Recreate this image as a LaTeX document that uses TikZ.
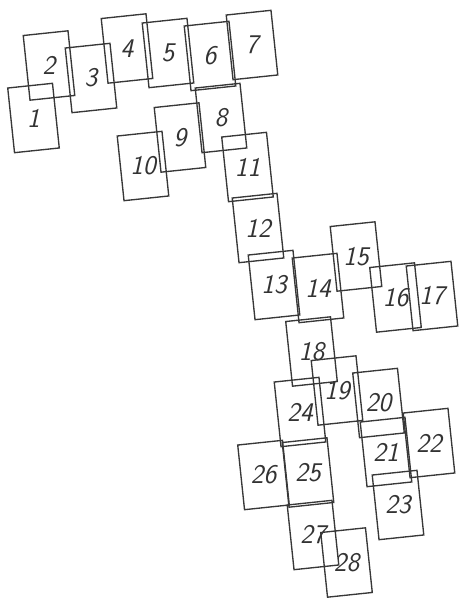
\documentclass[tikz,border=0pt]{standalone}
\begin{document}
\begin{tikzpicture}[x=1pt,y=-1pt,
  sheet/.style={draw=black!78, line width=1.35pt, rectangle, minimum width=45pt, minimum height=65pt, inner sep=0pt, outer sep=0pt, rotate=6},
  num/.style={text=black!80, font=\fontsize{27}{27}\selectfont\sffamily\itshape, inner sep=0pt}]
\useasboundingbox (0,0) rectangle (462,599);
\foreach \n/\x/\y in {1/33.5/118, 2/49/65.5, 3/91/78, 4/127/48.5, 5/168/53, 6/210/56, 7/252/45,
  8/221/118, 9/180/137.5, 10/143/166, 11/247.5/167, 12/258/228, 13/274/285, 14/318/288,
  15/356/256.5, 16/395.5/297.5, 17/432/296, 18/311.5/351.5, 19/337/390.5, 20/378.5/403,
  21/386/452, 22/429/443, 23/398/505, 24/300/412, 25/308/472.5, 26/263.5/475, 27/313/535,
  28/346.5/562.5}{
  \node[sheet] (r\n) at (\x,\y) {};
  \node[num] (t\n) at (r\n.center) {\n};
}
\end{tikzpicture}
\end{document}
